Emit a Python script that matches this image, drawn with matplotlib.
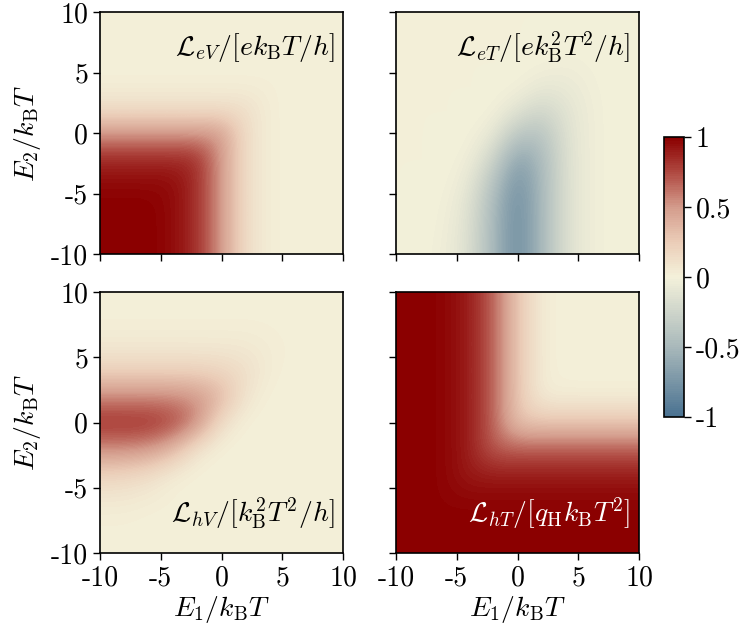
import numpy as np
import matplotlib
matplotlib.use('Agg')
import matplotlib.pyplot as plt
from matplotlib.colors import LinearSegmentedColormap

plt.rcParams['font.family'] = 'cmr10'
plt.rcParams['mathtext.fontset'] = 'cm'
plt.rcParams['axes.unicode_minus'] = False
plt.rcParams['axes.formatter.use_mathtext'] = True
plt.rcParams['font.size'] = 20

# grid of energies (step 2)
E = [-10, -8, -6, -4, -2, 0, 2, 4, 6, 8, 10]
# rows: E2 = 10 (top) ... -10 (bottom); columns: E1 = -10 ... 10
L_eV = [
    [0, 0, 0, 0, 0, 0, 0, 0, 0, 0, 0],
    [0, 0, 0, 0, 0, 0, 0, 0, 0, 0, 0],
    [0, 0, 0, 0, 0, 0, 0, 0, 0, 0, 0],
    [0.02, 0.02, 0.02, 0.02, 0.02, 0.02, 0.02, 0.02, 0, 0, 0],
    [0.13, 0.13, 0.13, 0.13, 0.13, 0.13, 0.13, 0.02, 0, 0, 0],
    [0.5, 0.5, 0.5, 0.5, 0.5, 0.5, 0.13, 0.02, 0, 0, 0],
    [0.84, 0.84, 0.84, 0.84, 0.84, 0.5, 0.13, 0.02, 0, 0, 0],
    [0.96, 0.96, 0.96, 0.96, 0.84, 0.5, 0.13, 0.02, 0, 0, 0],
    [1, 1, 1, 0.96, 0.84, 0.5, 0.13, 0.02, 0, 0, 0],
    [1, 1, 1, 0.96, 0.84, 0.5, 0.13, 0.02, 0, 0, 0],
    [1, 1, 1, 0.96, 0.84, 0.5, 0.13, 0.02, 0, 0, 0],
]
L_eT = [
    [0, 0, 0, 0, 0, 0, 0, 0, 0, 0, 0],
    [0, 0, 0, 0, 0, 0, 0, 0, 0, 0, 0],
    [0, 0, 0, 0, 0, 0, 0, -0.02, -0.01, 0, 0],
    [0, 0, 0, 0, 0, 0, -0.07, -0.07, -0.02, 0, 0],
    [0, 0, 0, 0, 0, -0.11, -0.23, -0.12, -0.03, 0, 0],
    [0, 0, 0, 0, -0.07, -0.37, -0.4, -0.14, -0.03, 0, 0],
    [0, 0, 0, -0.02, -0.23, -0.66, -0.48, -0.15, -0.03, 0, 0],
    [0, 0, 0, -0.07, -0.4, -0.78, -0.5, -0.15, -0.03, 0, 0],
    [0, 0, -0.01, -0.12, -0.48, -0.82, -0.5, -0.15, -0.03, 0, 0],
    [0, 0, -0.02, -0.14, -0.5, -0.82, -0.5, -0.15, -0.03, 0, 0],
    [0, 0, -0.03, -0.15, -0.5, -0.82, -0.5, -0.15, -0.03, 0, 0],
]
L_hV = [
    [0, 0, 0, 0, 0, 0, 0, 0, 0, 0, 0],
    [0.01, 0.01, 0.01, 0.01, 0.01, 0.01, 0.01, 0.01, 0, 0, 0],
    [0.05, 0.05, 0.05, 0.05, 0.05, 0.05, 0.05, 0.03, 0.01, 0, 0],
    [0.2, 0.2, 0.2, 0.2, 0.2, 0.18, 0.13, 0.03, 0, 0, 0],
    [0.55, 0.55, 0.55, 0.55, 0.51, 0.37, 0.08, 0, 0, 0, 0],
    [0.85, 0.85, 0.85, 0.78, 0.57, 0.12, 0, 0, 0, 0, 0],
    [0.55, 0.55, 0.51, 0.37, 0.08, 0, 0, 0, 0, 0, 0],
    [0.2, 0.18, 0.13, 0.03, 0, 0, 0, 0, 0, 0, 0],
    [0.05, 0.05, 0.03, 0.01, 0, 0, 0, 0, 0, 0, 0],
    [0.01, 0.01, 0, 0, 0, 0, 0, 0, 0, 0, 0],
    [0, 0, 0, 0, 0, 0, 0, 0, 0, 0, 0],
]
L_hT = [
    [1, 1, 0.98, 0.9, 0.68, 0.28, 0.03, 0, 0, 0, 0],
    [1, 1, 0.98, 0.9, 0.68, 0.28, 0.03, 0, 0, 0, 0],
    [1, 1, 0.98, 0.9, 0.68, 0.28, 0.03, 0, 0, 0, 0],
    [1, 1, 0.98, 0.9, 0.68, 0.28, 0.03, 0, 0, 0, 0],
    [1, 1, 0.98, 0.9, 0.68, 0.28, 0.03, 0.03, 0.03, 0.03, 0.03],
    [1, 1, 0.98, 0.9, 0.68, 0.28, 0.28, 0.28, 0.28, 0.28, 0.28],
    [1, 1, 0.98, 0.9, 0.68, 0.68, 0.68, 0.68, 0.68, 0.68, 0.68],
    [1, 1, 0.98, 0.9, 0.9, 0.9, 0.9, 0.9, 0.9, 0.9, 0.9],
    [1, 1, 0.98, 0.98, 0.98, 0.98, 0.98, 0.98, 0.98, 0.98, 0.98],
    [1, 1, 1, 1, 1, 1, 1, 1, 1, 1, 1],
    [1, 1, 1, 1, 1, 1, 1, 1, 1, 1, 1],
]

titles = [r'$\mathcal{L}_{eV}/[ek_\mathrm{B}T/h]$',
          r'$\mathcal{L}_{eT}/[ek_\mathrm{B}^2T^2/h]$',
          r'$\mathcal{L}_{hV}/[k_\mathrm{B}^2T^2/h]$',
          r'$\mathcal{L}_{hT}/[q_\mathrm{H}k_\mathrm{B}T^2]$']
ticks = [-10, -5, 0, 5, 10]
ticklabels = ['-10', '-5', '0', '5', '10']

cmap = LinearSegmentedColormap.from_list(
    'rb', [(0.0, '#4a7291'), (0.25, '#a9b9bb'), (0.5, '#f4f1da'),
           (0.625, '#ebcdb8'), (0.75, '#d49c8c'), (0.875, '#b04a42'),
           (1.0, '#8b0000')], N=128)

fig = plt.figure(figsize=(7.47, 6.33), dpi=100)
W, H = 747., 633.
boxes = [(100, 12, 243, 242), (396, 12, 243, 242),
         (100, 292, 243, 261), (396, 292, 243, 261)]
data = [L_eV, L_eT, L_hV, L_hT]
txt_y = [0.855, 0.855, 0.153, 0.153]
txt_c = ['k', 'k', 'k', 'w']

for i in range(4):
    x0, y0, w, hh = boxes[i]
    ax = fig.add_axes([x0/W, 1-(y0+hh)/H, w/W, hh/H])
    im = ax.imshow(np.array(data[i]), cmap=cmap, vmin=-1, vmax=1,
                   extent=(-11, 11, -11, 11), origin='upper',
                   interpolation='bicubic', aspect='auto')
    ax.set_xlim(-10, 10)
    ax.set_ylim(-10, 10)
    ax.set_xticks(ticks)
    ax.set_yticks(ticks)
    ax.tick_params(direction='out', length=5, width=1, labelsize=20)
    if i % 2 == 0:
        ax.set_yticklabels(ticklabels)
        ax.set_ylabel(r'$E_2/k_\mathrm{B}T$', fontsize=20, labelpad=6)
    else:
        ax.set_yticklabels([])
    if i >= 2:
        ax.set_xticklabels(ticklabels)
        ax.set_xlabel(r'$E_1/k_\mathrm{B}T$', fontsize=20, labelpad=2)
    else:
        ax.set_xticklabels([])
    for s in ax.spines.values():
        s.set_linewidth(1.2)
    ax.text(0.965, txt_y[i], titles[i], transform=ax.transAxes,
            ha='right', va='center', fontsize=20, color=txt_c[i])

cax = fig.add_axes([664/W, 1-417/H, 20/W, 280/H])
cb = fig.colorbar(im, cax=cax, ticks=[-1, -0.5, 0, 0.5, 1])
cb.ax.set_yticklabels(['-1', '-0.5', '0', '0.5', '1'])
cb.ax.tick_params(direction='out', length=5, width=1, labelsize=20)
cb.outline.set_linewidth(1.2)

fig.savefig('out.png', dpi=100)
